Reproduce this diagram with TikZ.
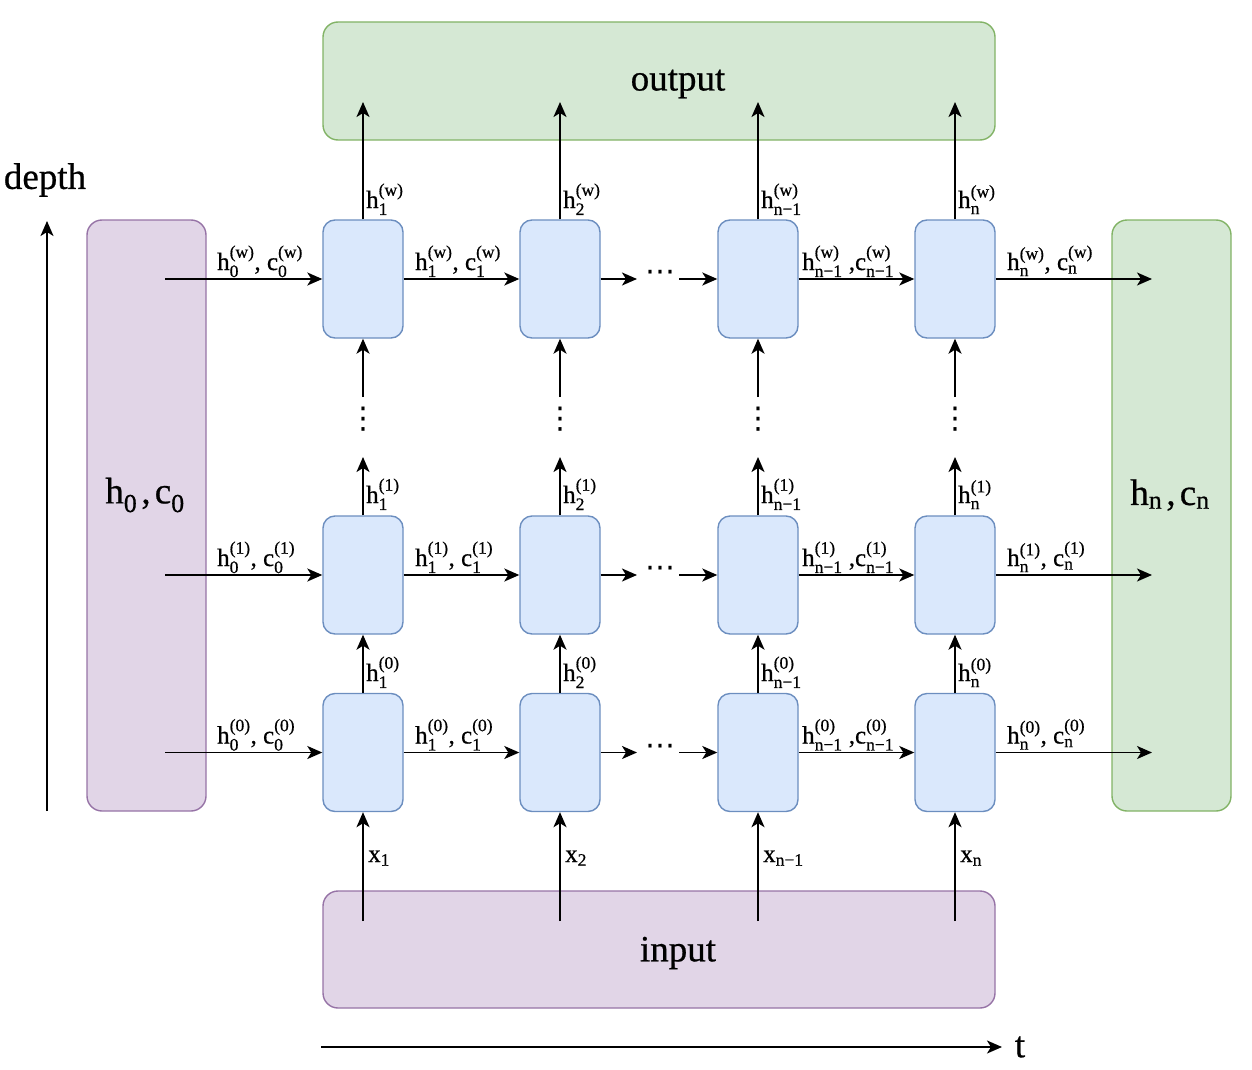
\documentclass[tikz,border=0pt]{standalone}
\usepackage{fontspec}
\setmainfont{Liberation Serif}
\newfontfamily\heavy{Liberation Serif}[FakeBold=0.6]
\newfontfamily\dejavu{DejaVu Sans}
\usepackage{amsmath}
\usetikzlibrary{arrows.meta}
\definecolor{cellfill}{HTML}{DAE8FC}
\definecolor{celldraw}{HTML}{6C8EBF}
\definecolor{grnfill}{HTML}{D5E8D4}
\definecolor{grndraw}{HTML}{82B366}
\definecolor{purfill}{HTML}{E1D5E7}
\definecolor{purdraw}{HTML}{9673A6}
\newcommand{\hv}[3]{$\text{#1}^{\text{(#3)}}_{\text{#2}}$}
\begin{document}
\begin{tikzpicture}[x=1pt,y=-1pt,
  cell/.style={draw=celldraw,fill=cellfill,line width=1.4pt,rounded corners=12pt,minimum width=80pt,minimum height=118pt,inner sep=0pt},
  grnbox/.style={draw=grndraw,fill=grnfill,line width=1.4pt,rounded corners=15pt,inner sep=0pt},
  purbox/.style={draw=purdraw,fill=purfill,line width=1.4pt,rounded corners=15pt,inner sep=0pt},
  arr/.style={line width=1.8pt,-{Stealth[length=15pt,width=13pt,inset=4pt]}},
  lbl/.style={font=\heavy\fontsize{25}{30}\selectfont,inner sep=0pt},
  big/.style={font=\heavy\fontsize{37}{44}\selectfont,inner sep=0pt},
  dotsty/.style={font=\dejavu\fontsize{30}{34}\selectfont,inner sep=0pt}]
\useasboundingbox (0,0) rectangle (1252,1070);
% big boxes
\node[grnbox,minimum width=672pt,minimum height=118pt] (out) at (659,81) {};
\node[big] (outtxt) at (678,84) {output};
\node[purbox,minimum width=672pt,minimum height=117pt] (inp) at (659,949.5) {};
\node[big] (intxt) at (678,953) {input};
\node[purbox,minimum width=119pt,minimum height=591pt] (lft) at (146.5,515.5) {};
\node[big] (lfttxt) at (145,495) {$\text{h}_{\text{0}}\,\text{,}\,\text{c}_{\text{0}}$};
\node[grnbox,minimum width=119pt,minimum height=591pt] (rgt) at (1171.5,515.5) {};
\node[big] (rgttxt) at (1170,495) {$\text{h}_{\text{n}}\,\text{,}\,\text{c}_{\text{n}}$};
% axes
\coordinate (d0) at (47,811);
\coordinate (d1) at (47,221);
\draw[arr] (d0) -- (d1);
\node[big] (depth) at (45,180) {depth};
\coordinate (t0) at (321,1047);
\coordinate (t1) at (1002,1047);
\draw[arr] (t0) -- (t1);
\node[big] (tlab) at (1020,1047) {t};
% cells
\foreach \c/\x in {1/363,2/560,3/758,4/955}{
  \foreach \r/\y in {0/752.5,1/575,2/279}{
    \node[cell] (c\c\r) at (\x,\y) {};
  }
}
% horizontal connections
\foreach \r/\y/\s in {0/752.5/0,1/575/1,2/279/w}{
  \coordinate (L\r) at (165,\y);
  \coordinate (R\r) at (1152,\y);
  \node[dotsty] (dots\r) at (660,\y-3) {⋯};
  \coordinate (da\r) at (637,\y);
  \coordinate (db\r) at (679,\y);
  \draw[arr] (L\r) -- (c1\r);
  \draw[arr] (c1\r) -- (c2\r);
  \draw[arr] (c2\r.east) -- (da\r);
  \draw[arr] (db\r) -- (c3\r.west);
  \draw[arr] (c3\r) -- (c4\r);
  \draw[arr] (c4\r.east) -- (R\r);
  \node[lbl,anchor=base west] at (217,\y-9) {\hv{h}{0}{\s}, \hv{c}{0}{\s}};
  \node[lbl,anchor=base west] at (415,\y-9) {\hv{h}{1}{\s}, \hv{c}{1}{\s}};
  \node[lbl,anchor=base west] at (802,\y-9) {\hv{h}{n−1}{\s} ,\hv{c}{n−1}{\s}};
  \node[lbl,anchor=base west] at (1007,\y-9) {\hv{h}{n}{\s}, \hv{c}{n}{\s}};
}
% vertical connections
\foreach \c/\x/\sub in {1/363/1,2/560/2,3/758/n−1,4/955/n}{
  \coordinate (in\c) at (\x,921);
  \coordinate (o\c) at (\x,102);
  \coordinate (m\c) at (\x,457);
  \coordinate (s\c) at (\x,397);
  \draw[arr] (in\c) -- (c\c0);
  \draw[arr] (c\c0) -- (c\c1);
  \draw[arr] (c\c1) -- (m\c);
  \node[dotsty] (vd\c) at (\x,419) {⋮};
  \draw[arr] (s\c) -- (c\c2);
  \draw[arr] (c\c2) -- (o\c);
  \node[lbl,anchor=base west] at (\x+3,208) {\hv{h}{\sub}{w}};
  \node[lbl,anchor=base west] at (\x+3,503) {\hv{h}{\sub}{1}};
  \node[lbl,anchor=base west] at (\x+3,681) {\hv{h}{\sub}{0}};
  \node[lbl,anchor=base west] at (\x+5,862) {$\text{x}_{\text{\sub}}$};
}
\end{tikzpicture}
\end{document}
